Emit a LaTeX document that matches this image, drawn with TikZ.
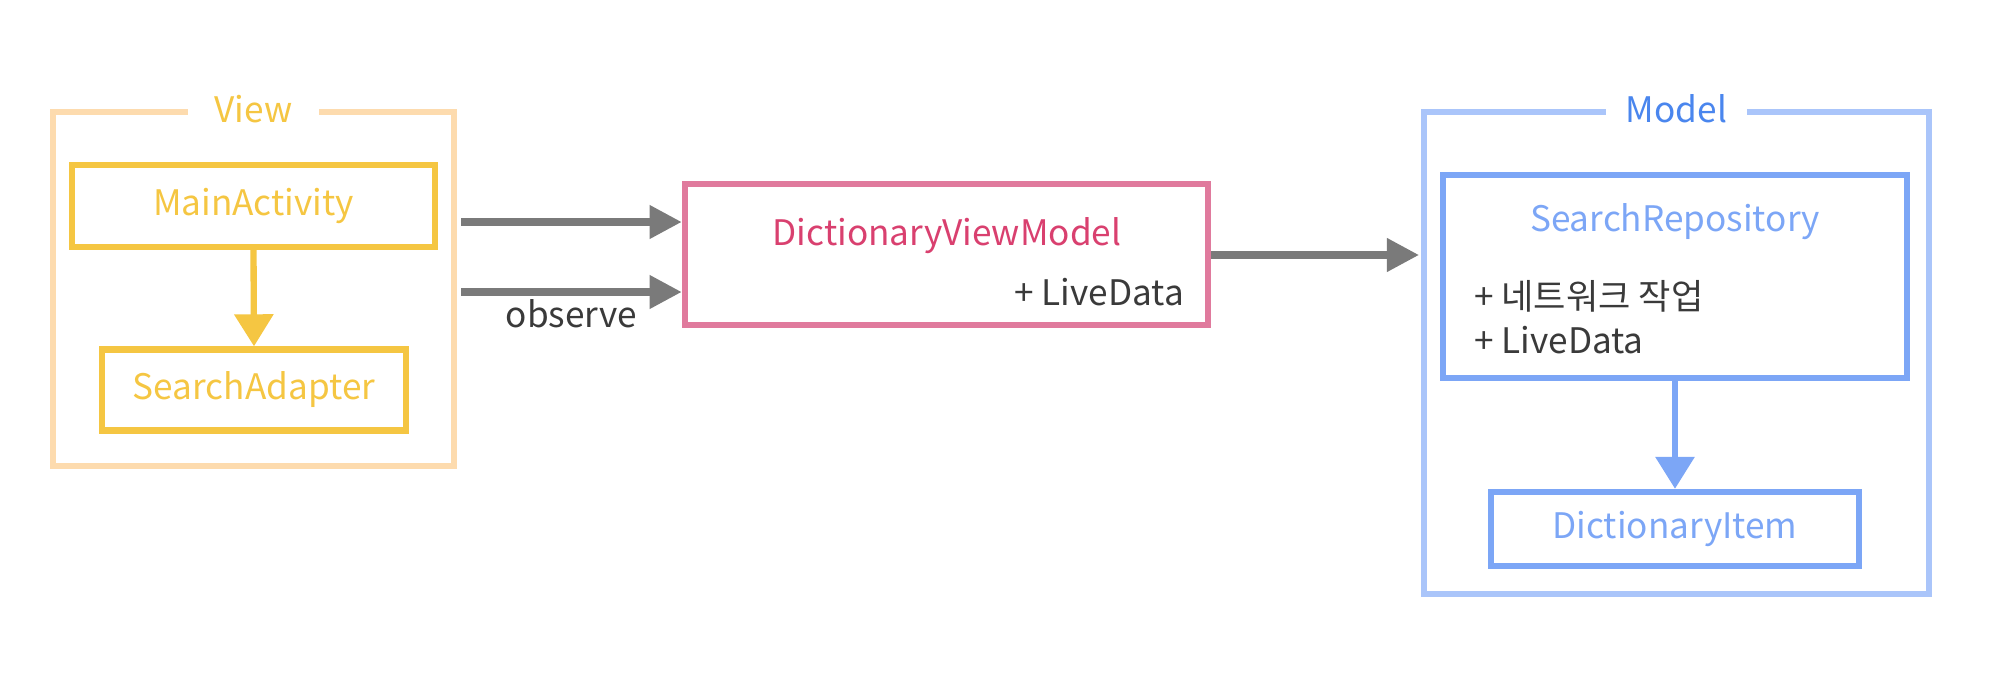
\documentclass[tikz,border=0pt]{standalone}
\usepackage{fontspec}
\setmainfont{Noto Sans CJK KR}
\usepackage{xcolor}
\usepackage{tikz}
\usetikzlibrary{arrows.meta}
\usetikzlibrary{positioning}
\definecolor{laranjaclaro}{HTML}{FDDBAE}
\definecolor{amarelo}{HTML}{F5C642}
\definecolor{rosa}{HTML}{E07A9D}
\definecolor{rosatexto}{HTML}{D9406F}
\definecolor{azulclaro}{HTML}{AAC5FA}
\definecolor{azul}{HTML}{7CA6F6}
\definecolor{azultitulo}{HTML}{4A86EE}
\definecolor{cinza}{HTML}{7A7A7A}
\definecolor{escuro}{HTML}{3A3A3A}
\tikzset{
  grupo/.style={draw=#1, line width=1.6pt, inner sep=0pt},
  caixa/.style={draw=#1, line width=1.8pt, inner sep=0pt, font=\fontsize{10}{12}\selectfont},
  rotulo/.style={fill=white, inner xsep=#1, inner ysep=2pt, font=\fontsize{10}{12}\selectfont},
  rotulo/.default=0.25cm,
  linha/.style={font=\fontsize{10}{12}\selectfont, text=escuro, inner sep=1pt},
  seta/.style={draw=cinza, line width=2pt, -{Triangle[length=0.32cm,width=0.32cm]}},
  descida/.style={draw=#1, line width=1.8pt, -{Triangle[length=0.32cm,width=0.38cm]}},
}

\begin{document}
\begin{tikzpicture}[x=0.01cm, y=-0.01cm]
  \useasboundingbox (0,0) rectangle (1990,700);

  % View
  \node[grupo=laranjaclaro, minimum width=4.01cm, minimum height=3.54cm] (viewgrp) at (253.5,289) {};
  \node[rotulo=0.27cm, text=amarelo] (viewtit) at (viewgrp.north) {View};
  \node[caixa=amarelo, text=amarelo, minimum width=3.63cm, minimum height=0.82cm] (main) at (253.5,206) {MainActivity};
  \node[caixa=amarelo, text=amarelo, minimum width=3.04cm, minimum height=0.81cm] (adapter) at (254,390) {SearchAdapter};
  \draw[descida=amarelo] (main.south) -- (adapter.north);

  % ViewModel
  \node[caixa=rosa, minimum width=5.23cm, minimum height=1.41cm] (vm) at (946.5,254.5) {};
  \node[linha, text=rosatexto] (vmtit) at (947,236) {DictionaryViewModel};
  \node[linha, anchor=east] (vmdata) at (1188,292) {+ LiveData};
  \coordinate (s1) at (461,222);
  \coordinate (s2) at (461,292);
  \draw[seta] (s1) -- (vm.west |- s1);
  \draw[seta] (s2) -- node[linha, below=0pt] (obs) {observe} (vm.west |- s2);

  % Model
  \node[grupo=azulclaro, minimum width=5.05cm, minimum height=4.82cm] (modelgrp) at (1676.5,353) {};
  \node[rotulo=0.2cm, text=azultitulo] (modeltit) at (modelgrp.north) {Model};
  \node[caixa=azul, minimum width=4.64cm, minimum height=2.03cm] (repo) at (1675,276.5) {};
  \node[linha, text=azul] (repotit) at (1675,222) {SearchRepository};
  \node[linha, anchor=west] (repo1) at (1470,296) {+ 네트워크 작업};
  \node[linha, anchor=west] (repo2) at (1470,340) {+ LiveData};
  \node[caixa=azul, text=azul, minimum width=3.68cm, minimum height=0.74cm] (item) at (1675,529) {DictionaryItem};
  \draw[descida=azul] (repo.south) -- (item.north);
  \coordinate (pm) at (1419,255);
  \draw[seta] (vm.east |- pm) -- (pm);
\end{tikzpicture}
\end{document}
